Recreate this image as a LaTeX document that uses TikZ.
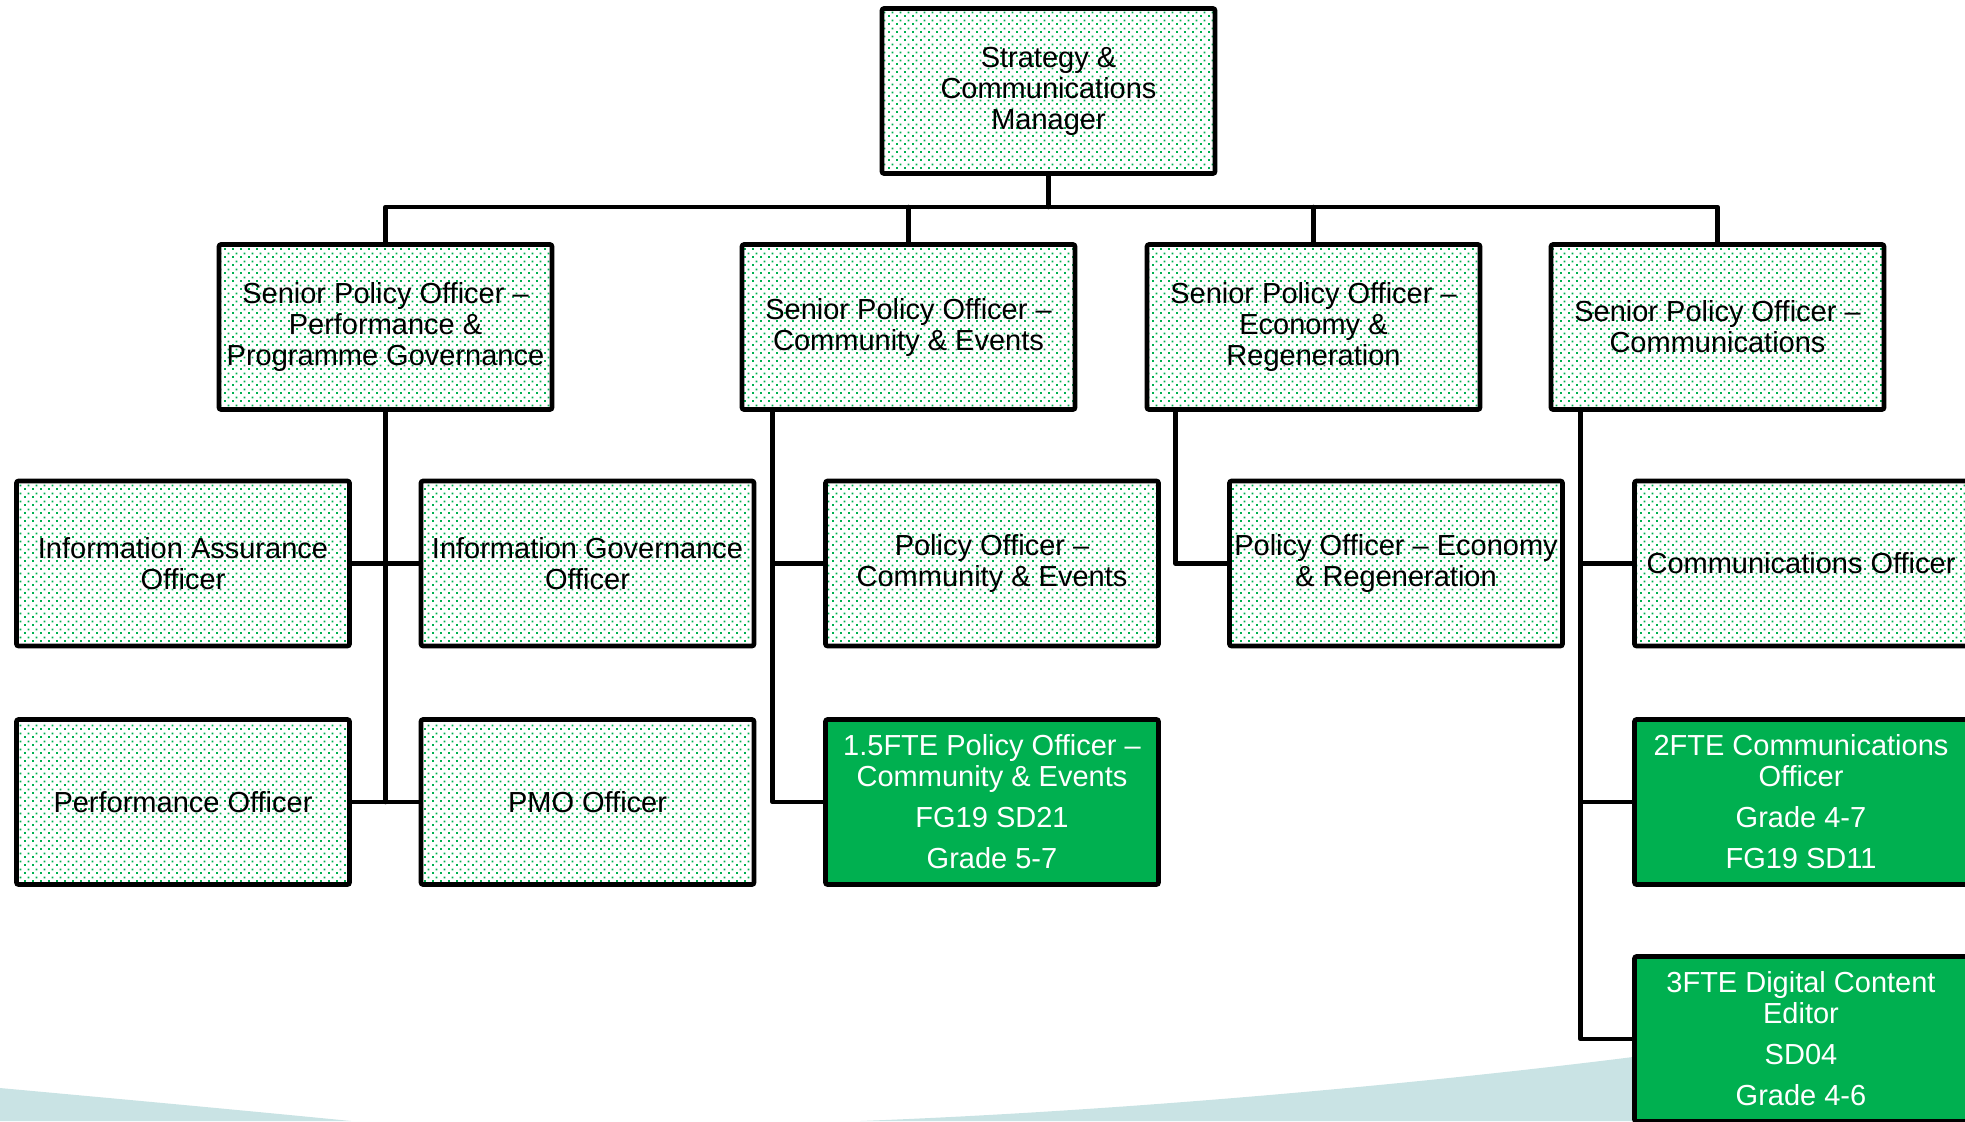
\documentclass[tikz,border=0pt]{standalone}
\usepackage{fontspec}
\setmainfont{Liberation Sans}
\usetikzlibrary{patterns.meta}
\definecolor{pgreen}{RGB}{0,176,80}
\definecolor{teal}{RGB}{201,227,228}
\tikzdeclarepattern{
  name=pptdots,
  type=uncolored,
  bounding box={(0pt,0pt) and (4pt,4pt)},
  tile size={(4pt,4pt)},
  code={
    \pgfpathrectangle{\pgfpointorigin}{\pgfqpoint{1pt}{1pt}}
    \pgfpathrectangle{\pgfqpoint{2pt}{2pt}}{\pgfqpoint{1pt}{1pt}}
    \pgfusepath{fill}
  }
}
\tikzset{
  orgbox/.style={draw=black, line width=2.3pt, rounded corners=1pt,
    minimum width=166.5pt, minimum height=82.5pt, inner sep=0pt,
    align=center, font=\fontsize{14.5pt}{15.5pt}\selectfont},
  dotbox/.style={orgbox, pattern=pptdots, pattern color=pgreen, text=black},
  greenbox/.style={orgbox, fill=pgreen, text=white},
  conn/.style={line width=2.3pt, line join=round, line cap=round}
}
\begin{document}
\begin{tikzpicture}[x=0.5pt, y=-0.5pt]
\useasboundingbox (0,0) rectangle (1965,1121);
\clip (0,0) rectangle (1965,1121);
% background waves
\fill[teal] (0,1088) .. controls (120,1099) and (240,1110) .. (351,1121) -- (0,1121) -- cycle;
\fill[teal] (860,1121) .. controls (1150,1110) and (1450,1080) .. (1633,1057)
  -- (1965,1015) -- (1965,1121) -- cycle;

\coordinate (bus) at (0,207);

\node[dotbox] (top) at (1048.5,91) {Strategy \&\\Communications\\Manager};

\node[dotbox] (A) at (385.5,327) {Senior Policy Officer --\\Performance \&\\Programme Governance};
\node[dotbox] (B) at (908.5,327) {Senior Policy Officer --\\Community \& Events};
\node[dotbox] (C) at (1313.5,327) {Senior Policy Officer --\\Economy \&\\Regeneration};
\node[dotbox] (D) at (1717.5,327) {Senior Policy Officer --\\Communications};

\node[dotbox] (IA) at (183,563.5) {Information Assurance\\Officer};
\node[dotbox] (IG) at (587.5,563.5) {Information Governance\\Officer};
\node[dotbox] (PCE) at (992,563.5) {Policy Officer --\\Community \& Events};
\node[dotbox] (PER) at (1396,563.5) {Policy Officer -- Economy\\\& Regeneration};
\node[dotbox] (CO) at (1801,563.5) {Communications Officer};

\node[dotbox] (PerfO) at (183,802) {Performance Officer};
\node[dotbox] (PMO) at (587.5,802) {PMO Officer};
\node[greenbox] (G1) at (992,802) {1.5FTE Policy Officer --\\Community \& Events\\[5pt]FG19 SD21\\[5pt]Grade 5-7};
\node[greenbox] (G2) at (1801,802) {2FTE Communications\\Officer\\[5pt]Grade 4-7\\[5pt]FG19 SD11};
\node[greenbox] (G3) at (1801,1039) {3FTE Digital Content\\Editor\\[5pt]SD04\\[5pt]Grade 4-6};

% top level connectors
\draw[conn] (top.south) -- (top.south |- bus);
\draw[conn] (A.north) -- (A.north |- bus) -- (D.north |- bus) -- (D.north);
\draw[conn] (B.north) -- (B.north |- bus);
\draw[conn] (C.north) -- (C.north |- bus);

% A children
\draw[conn] (A.south) -- (A.south |- PerfO.east);
\draw[conn] (IA.east) -- (IG.west);
\draw[conn] (PerfO.east) -- (PMO.west);

% B children
\draw[conn] ([xshift=16.5pt]B.south west) |- (G1.west);
\draw[conn] ([xshift=16.5pt]B.south west) |- (PCE.west);

% C children
\draw[conn] ([xshift=15.5pt]C.south west) |- (PER.west);

% D children
\draw[conn] ([xshift=16pt]D.south west) |- (G3.west);
\draw[conn] ([xshift=16pt]D.south west) |- (CO.west);
\draw[conn] ([xshift=16pt]D.south west) |- (G2.west);
\end{tikzpicture}
\end{document}
